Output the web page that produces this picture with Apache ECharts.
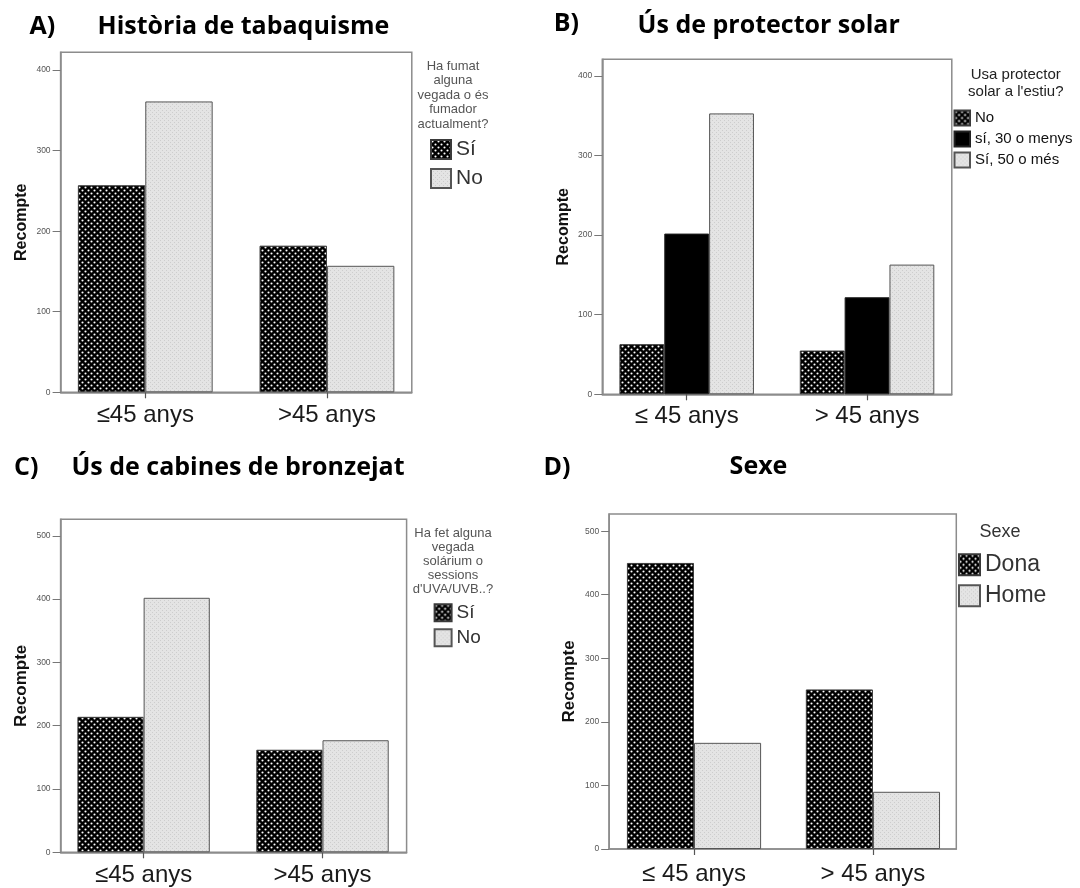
<!DOCTYPE html>
<html><head><meta charset="utf-8">
<script src="https://cdn.jsdelivr.net/npm/echarts@6/dist/echarts.min.js"></script>
<style>html,body{margin:0;padding:0;background:#fff}#c{width:1080px;height:888px}</style>
</head><body><div id="c"></div>
<script>
// ---- data ----
const catsA = ['≤45 anys', '>45 anys'];
const A_si = [257, 182];
const A_no = [361, 157];

const catsB = ['≤ 45 anys', '> 45 anys'];
const B_no = [63, 55];
const B_si30 = [202, 122];
const B_si50 = [353, 163];

const catsC = ['≤45 anys', '>45 anys'];
const C_si = [214, 162];
const C_no = [402, 177];

const catsD = ['≤ 45 anys', '> 45 anys'];
const D_dona = [450, 251];
const D_home = [167, 90];

const ticksAB = [0, 100, 200, 300, 400];
const ticksCD = [0, 100, 200, 300, 400, 500];

// ---- patterns ----
function checker() {
  const c = document.createElement('canvas'); c.width = 6; c.height = 6;
  const g = c.getContext('2d');
  g.fillStyle = '#000000'; g.fillRect(0, 0, 6, 6);
  g.fillStyle = '#ffffff';
  [[1.5,1.5],[4.5,4.5]].forEach(p => { g.beginPath(); g.arc(p[0], p[1], 1.05, 0, Math.PI*2); g.fill(); });
  return { image: c, repeat: 'repeat' };
}
function light() {
  const c = document.createElement('canvas'); c.width = 4; c.height = 4;
  const g = c.getContext('2d');
  g.fillStyle = '#e4e4e4'; g.fillRect(0, 0, 4, 4);
  g.fillStyle = '#cdcdcd'; g.fillRect(0, 0, 1, 1); g.fillRect(2, 2, 1, 1);
  return { image: c, repeat: 'repeat' };
}
const PAT_DARK = checker();
const PAT_LIGHT = light();
const FONT = "'Liberation Sans', Arial, sans-serif";
const TFONT = "'Open Sans', Lato, sans-serif";
const AX = '#8c8c8c';

const pts = arr => arr.map((v, i) => [i, v]);

const grids = [
  { left: 60.6, top: 52.3, width: 351.2, height: 340 },
  { left: 602.3, top: 59.3, width: 349.5, height: 335 },
  { left: 60.6, top: 519.3, width: 346, height: 333 },
  { left: 609.2, top: 514, width: 347.1, height: 335 }
].map(g => Object.assign(g, { show: true, borderColor: AX, borderWidth: 1.5, backgroundColor: 'transparent', outerBoundsMode: 'none' }));

const xRanges = [[-0.466, 1.467], [-0.468, 1.470], [-0.464, 1.470], [-0.474, 1.466]];
const xCats = [catsA, catsB, catsC, catsD];
const xMargins = [11, 10, 11, 13];
const xAxis = xRanges.map((r, i) => ({
  gridIndex: i, type: 'value', min: r[0], max: r[1],
  splitLine: { show: false },
  axisLine: { show: true, onZero: false, lineStyle: { color: AX, width: 1.5 } },
  axisTick: { show: true, customValues: [0, 1], length: 6, lineStyle: { color: '#555', width: 1.2 } },
  axisLabel: { customValues: [0, 1], formatter: v => xCats[i][Math.round(v)], fontSize: 24, color: '#1a1a1a', margin: xMargins[i], fontFamily: FONT }
}));

const yMax = [422, 421, 526, 527];
const yTicks = [ticksAB, ticksAB, ticksCD, ticksCD];
const yNameSize = [16, 16, 17, 17];
const yAxis = yMax.map((m, i) => ({
  gridIndex: i, type: 'value', min: 0, max: m, interval: 100,
  name: 'Recompte', nameLocation: 'middle', nameGap: 31,
  nameTextStyle: { fontWeight: 'bold', fontSize: yNameSize[i], color: '#111', fontFamily: FONT },
  splitLine: { show: false },
  axisLine: { show: true, onZero: false, lineStyle: { color: AX, width: 1.5 } },
  axisTick: { show: true, customValues: yTicks[i], length: 8, lineStyle: { color: '#777', width: 1 } },
  axisLabel: { customValues: yTicks[i], fontSize: 8.5, color: '#555', margin: 10, fontFamily: FONT }
}));

function bar(gi, name, data, color, gap, border) {
  return {
    type: 'bar', name: name, xAxisIndex: gi, yAxisIndex: gi, data: pts(data),
    barGap: '0%', barCategoryGap: gap,
    itemStyle: { color: color, borderColor: border || '#3a3a3a', borderWidth: 1 },
    emphasis: { disabled: true }, animation: false
  };
}

const series = [
  bar(0, 'A|Sí', A_si, PAT_DARK, '25.8%'),
  bar(0, 'A|No', A_no, PAT_LIGHT, '25.8%', '#555'),
  bar(1, 'B|No', B_no, PAT_DARK, '25.4%'),
  bar(1, 'B|sí, 30 o menys', B_si30, '#000', '25.4%', '#222'),
  bar(1, 'B|Sí, 50 o més', B_si50, PAT_LIGHT, '25.4%', '#555'),
  bar(2, 'C|Sí', C_si, PAT_DARK, '26%'),
  bar(2, 'C|No', C_no, PAT_LIGHT, '26%', '#555'),
  bar(3, 'D|Dona', D_dona, PAT_DARK, '25%'),
  bar(3, 'D|Home', D_home, PAT_LIGHT, '25%', '#555')
];

function legend(prefix, names, left, top, iw, ih, gap, fs, color) {
  return {
    orient: 'vertical', left: left, top: top, padding: 0, icon: 'rect',
    itemWidth: iw, itemHeight: ih, itemGap: gap, selectedMode: false,
    data: names.map(n => prefix + '|' + n),
    formatter: n => n.split('|')[1],
    textStyle: { fontSize: fs, color: color, lineHeight: ih, fontFamily: FONT }
  };
}
const legends = [
  legend('A', ['Sí', 'No'], 430, 139, 20, 19, 8, 21, '#333'),
  legend('B', ['No', 'sí, 30 o menys', 'Sí, 50 o més'], 953.5, 109.5, 15.5, 15, 4, 15, '#111'),
  legend('C', ['Sí', 'No'], 433.6, 603.3, 17, 17, 6, 19, '#333'),
  legend('D', ['Dona', 'Home'], 958, 553.3, 21, 21, 8, 23, '#333')
];

function txt(text, x, y, size, weight, color, align, valign, family, lh) {
  return {
    type: 'text', x: x, y: y, silent: true,
    style: {
      text: text, fontSize: size, fontWeight: weight, fill: color, fontFamily: family,
      align: align, textAlign: align, verticalAlign: valign, textVerticalAlign: valign,
      lineHeight: lh || size
    }
  };
}
const graphics = [
  txt('A)', 29.4, 27, 25, 'bold', '#000', 'left', 'middle', TFONT),
  txt('Història de tabaquisme', 243.4, 27, 25, 'bold', '#000', 'center', 'middle', TFONT),
  txt('B)', 553.8, 24, 25, 'bold', '#000', 'left', 'middle', TFONT),
  txt('Ús de protector solar', 768.7, 26, 25, 'bold', '#000', 'center', 'middle', TFONT),
  txt('C)', 14, 468, 25, 'bold', '#000', 'left', 'middle', TFONT),
  txt('Ús de cabines de bronzejat', 238, 467.5, 25, 'bold', '#000', 'center', 'middle', TFONT),
  txt('D)', 543.5, 468, 25, 'bold', '#000', 'left', 'middle', TFONT),
  txt('Sexe', 758.5, 467, 25, 'bold', '#000', 'center', 'middle', TFONT),
  txt('Ha fumat\nalguna\nvegada o és\nfumador\nactualment?', 453, 59, 13, 'normal', '#555', 'center', 'top', FONT, 14.5),
  txt('Usa protector\nsolar a l\'estiu?', 1015.8, 66.5, 15, 'normal', '#222', 'center', 'top', FONT, 17),
  txt('Ha fet alguna\nvegada\nsolárium o\nsessions\nd\'UVA/UVB..?', 453, 526.3, 13, 'normal', '#555', 'center', 'top', FONT, 14),
  txt('Sexe', 1000, 531.7, 18, 'normal', '#333', 'center', 'middle', FONT)
];

const chart = echarts.init(document.getElementById('c'), null, { renderer: 'canvas' });
chart.setOption({
  animation: false,
  backgroundColor: '#fff',
  textStyle: { fontFamily: FONT },
  grid: grids, xAxis: xAxis, yAxis: yAxis, series: series,
  legend: legends,
  graphic: { elements: graphics }
});
</script></body></html>
